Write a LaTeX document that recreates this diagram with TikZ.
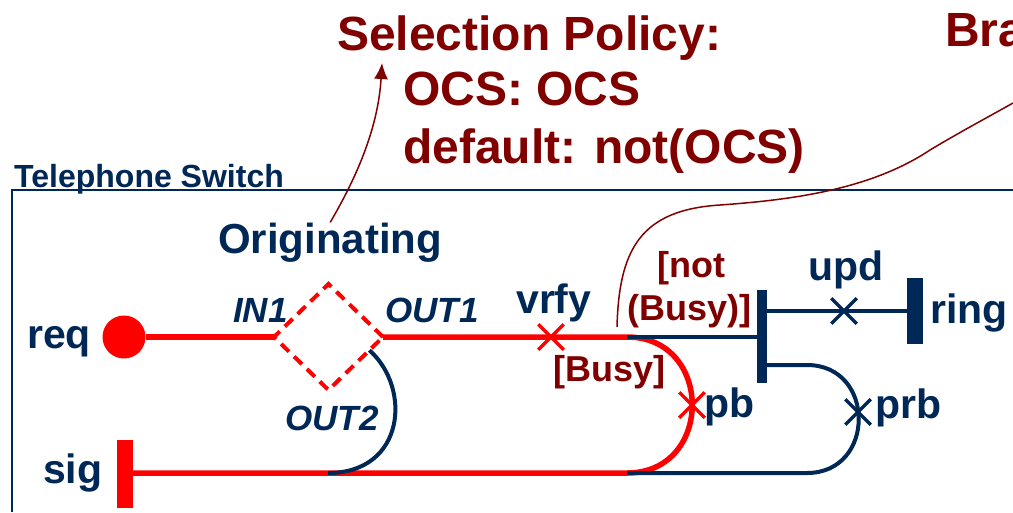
\documentclass[tikz,border=0pt]{standalone}
\usepackage{fontspec}
\setmainfont{Liberation Sans}
\usepackage{tikz}
\usepackage{xcolor}
\usetikzlibrary{calc}
\usetikzlibrary{shapes.geometric, shapes.misc, arrows.meta, calc}
\definecolor{navy}{RGB}{0,40,86}
\definecolor{darkred}{RGB}{128,0,0}
\definecolor{pathred}{RGB}{255,0,0}

\begin{document}
\begin{tikzpicture}[x=1pt,y=-1pt,
  lbl/.style={anchor=base west,inner sep=0pt,text=navy,font=\fontsize{41}{44}\selectfont\bfseries},
  portlbl/.style={anchor=base west,inner sep=0pt,text=navy,font=\fontsize{35}{40}\selectfont\bfseries\itshape},
  guardlbl/.style={anchor=base west,inner sep=0pt,text=darkred,font=\fontsize{36}{40}\selectfont\bfseries},
  policylbl/.style={anchor=base west,inner sep=0pt,text=darkred,font=\fontsize{48}{52}\selectfont\bfseries},
  redwire/.style={draw=pathred,line width=5.5pt},
  navywire/.style={draw=navy,line width=4pt},
  xmark/.style={cross out,minimum size=22pt,inner sep=0pt,line width=3.5pt},
  stopbar/.style={rectangle,inner sep=0pt,minimum width=16pt},
  note/.style={draw=darkred,line width=1.5pt}]
\useasboundingbox (0,0) rectangle (1013,512);
\clip (0,0) rectangle (1013,512);
\filldraw[color=white] (0,0) rectangle (1013,512);
% Drawing box
\draw[navy,line width=2pt] (12,512) -- (12,190) -- (1013,190);
\node[lbl,font=\fontsize{32}{35}\selectfont\bfseries] (switch) at (14,187) {Telephone Switch};
% Drawing ends, router and bars
\node[circle,fill=pathred,minimum size=43pt,inner sep=0pt] (req) at (124,337) {};
\node[diamond,draw=pathred,dash pattern=on 11pt off 7pt,line width=4pt,
  minimum width=109pt,minimum height=106pt,inner sep=0pt,outer sep=0pt] (orig) at (328.5,337) {};
\node[stopbar,fill=pathred,minimum height=68pt] (sig) at (125,474) {};
\node[stopbar,fill=navy,minimum width=10pt,minimum height=93pt] (brbar) at (762,336.5) {};
\node[stopbar,fill=navy,minimum height=66pt] (ringbar) at (915,311) {};
\coordinate (bu1) at (627,337);
\coordinate (bu2) at (627,473);
\coordinate (pr1) at (807,365);
\coordinate (pr2) at (807,473);
\coordinate (out2end) at (328,473);
% Drawing wires
% Line 1: req -> orig -> pb -> sig
\draw[redwire] (req) -- (orig.west);
\draw[redwire] (orig.east) -- (bu1) .. controls (714,337) and (714,473) .. (bu2) -- (sig.east |- bu2);
% Line 2: OUT2
\draw[navywire] ($(orig.east)!0.25!(orig.south)$) .. controls (412,388) and (405,473) .. (out2end);
% Line 3: not(Busy) -> ring
\draw[navywire] (bu1) -- (brbar.west |- bu1);
\draw[navywire] (brbar.east |- ringbar) -- (ringbar.west);
% Line 4: prb
\draw[navywire] (brbar.east |- pr1) -- (pr1) .. controls (876,365) and (876,473) .. (pr2) -- (bu2);
% Done with wires; drawing signals
\node[xmark,draw=pathred] (vrfy) at (551,337) {};
\node[xmark,draw=pathred] (pb) at (692,405) {};
\node[xmark,draw=navy] (upd) at (844,311) {};
\node[xmark,draw=navy] (prb) at (858,412) {};
% Done with signals; drawing labels
\node[lbl] (reqlbl) at (27,348) {req};
\node[lbl] (siglbl) at (43,483) {sig};
\node[lbl,font=\fontsize{42}{46}\selectfont\bfseries] (origlbl) at (218,253) {Originating};
\node[portlbl] (in1) at (233,322) {IN1};
\node[portlbl] (out1) at (385,322) {OUT1};
\node[portlbl] (out2) at (285,430) {OUT2};
\node[lbl] (vrfylbl) at (516,313) {vrfy};
\node[lbl] (pblbl) at (704,417) {pb};
\node[lbl] (prblbl) at (875,418) {prb};
\node[lbl] (updlbl) at (808,280) {upd};
\node[lbl] (ringlbl) at (930,323) {ring};
\node[guardlbl] (notbusy1) at (657,277) {[not};
\node[guardlbl] (notbusy2) at (627,320) {(Busy)]};
\node[guardlbl] (busy) at (553,381) {[Busy]};
% Drawing policies and comments
\node[policylbl] (selpol) at (337,50) {Selection Policy:};
\node[policylbl] (ocs) at (403,105) {OCS: OCS};
\node[policylbl] (dflt) at (403,163) {default: not(OCS)};
\node[policylbl] (brpol) at (945,46) {Bra};
\coordinate (seltip) at (382,63);
\coordinate (brtail) at (1013,103);
\draw[note,-{Latex[length=16pt,width=14pt]}] (origlbl.north) .. controls (355,180) and (378,130) .. (seltip);
\draw[note] ($(notbusy2.base west)+(-10,7)$) .. controls (619,250) and (640,210) .. (720,205)
  .. controls (790,200) and (870,190) .. (930,150) .. controls (960,132) and (990,116) .. (brtail);
% Done with comments
\end{tikzpicture}
\end{document}
